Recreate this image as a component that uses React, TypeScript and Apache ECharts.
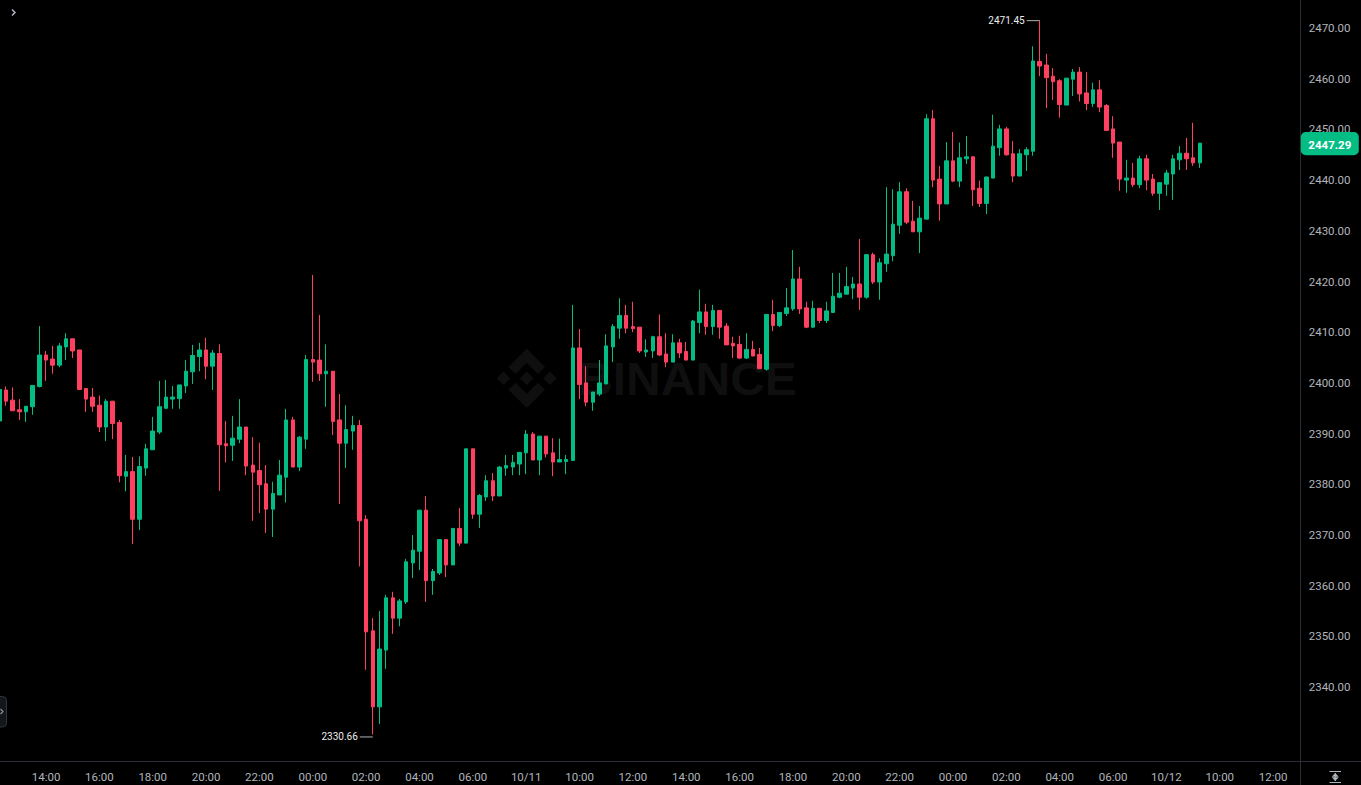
import React, { useEffect, useRef } from "react";
import * as echarts from "echarts";

const opens = [
  2392.5,2398.6,2396.6,2394.7,2394.3,2395.3,2399.3,2405.5,2404.7,2403.5,
  2407.1,2408.7,2406.5,2398.9,2397.2,2395.6,2391.3,2396.4,2392.2,2381.6,
  2382.5,2373.1,2383.2,2386.8,2390.3,2395.0,2396.8,2396.9,2399.4,2402.2,
  2405.2,2406.5,2403.3,2405.8,2388.0,2387.7,2388.9,2391.3,2383.8,2382.7,
  2380.1,2375.1,2377.9,2381.4,2392.7,2383.4,2388.9,2404.6,2404.5,2401.8,
  2402.3,2392.7,2388.1,2390.5,2391.6,2373.1,2351.1,2336.1,2347.3,2357.6,
  2353.6,2356.8,2364.5,2366.8,2374.9,2361.0,2362.5,2369.1,2364.1,2371.3,
  2368.4,2387.0,2374.1,2377.5,2380.7,2377.7,2383.2,2383.4,2384.0,2386.2,
  2389.9,2384.8,2389.5,2386.2,2384.4,2384.5,2384.7,2406.9,2400.0,2396.2,
  2397.8,2399.8,2407.1,2410.8,2413.3,2411.1,2411.0,2406.1,2406.3,2409.1,
  2405.7,2404.1,2407.9,2406.2,2404.5,2411.9,2414.0,2411.1,2414.3,2411.2,
  2407.8,2407.6,2404.9,2406.6,2405.6,2402.7,2413.5,2411.3,2413.7,2414.6,
  2420.5,2414.8,2411.0,2414.7,2412.3,2413.9,2416.9,2417.5,2418.7,2419.5,
  2416.9,2425.3,2419.9,2423.5,2425.1,2431.1,2437.7,2431.9,2429.8,2432.3,
  2452.1,2440.2,2435.3,2443.8,2439.8,2444.2,2444.6,2438.4,2435.4,2440.4,
  2446.4,2450.1,2445.2,2440.8,2445.0,2445.7,2463.4,2462.7,2460.5,2459.6,
  2454.8,2459.9,2461.3,2457.2,2455.1,2457.8,2454.7,2450.1,2447.5,2440.0,
  2440.4,2439.1,2444.2,2440.2,2437.4,2439.2,2441.2,2444.0,2445.3,2444.4,
  2443.4,
];
const closes = [
  2398.7,2396.4,2394.5,2394.3,2395.4,2399.5,2405.5,2404.5,2403.5,2407.3,
  2408.7,2406.3,2398.7,2396.8,2395.4,2391.3,2396.4,2392.0,2381.7,2382.5,
  2373.1,2383.5,2387.0,2390.5,2395.3,2397.2,2397.2,2399.6,2402.3,2405.4,
  2406.5,2403.3,2405.9,2387.8,2387.6,2389.1,2391.3,2383.6,2382.4,2379.9,
  2375.1,2378.2,2381.8,2392.7,2383.4,2389.3,2404.6,2404.1,2401.8,2402.3,
  2392.4,2388.1,2390.8,2391.6,2372.8,2350.9,2336.1,2347.5,2357.6,2353.6,
  2357.0,2364.7,2367.0,2374.9,2361.0,2362.8,2369.1,2364.1,2371.3,2368.4,
  2387.0,2374.1,2377.8,2380.7,2377.7,2383.4,2383.7,2384.3,2386.3,2389.9,
  2384.8,2389.5,2386.0,2384.4,2384.9,2384.9,2406.9,2399.7,2396.2,2398.2,
  2400.0,2407.3,2411.1,2413.3,2410.8,2410.7,2406.3,2406.5,2409.1,2405.5,
  2404.1,2407.9,2405.9,2404.5,2412.2,2414.0,2411.1,2414.3,2411.0,2407.5,
  2407.3,2404.9,2406.6,2405.3,2402.8,2413.5,2411.3,2413.9,2414.8,2420.5,
  2414.6,2411.0,2414.7,2412.3,2414.2,2417.1,2417.7,2419.0,2419.5,2416.9,
  2425.3,2419.9,2423.7,2425.4,2431.3,2437.7,2431.7,2429.8,2432.5,2452.1,
  2440.0,2435.3,2443.8,2439.8,2444.4,2444.6,2438.1,2435.4,2440.6,2446.7,
  2450.1,2445.0,2440.8,2445.2,2446.0,2463.5,2462.5,2460.2,2459.4,2454.9,
  2460.1,2461.3,2457.0,2455.1,2457.8,2454.4,2449.8,2447.3,2440.2,2440.4,
  2439.1,2444.2,2440.0,2437.4,2439.5,2441.4,2444.2,2445.3,2444.2,2443.4,
  2447.29,
];
const lows = [
  2390.8,2395.5,2394.5,2392.7,2392.3,2393.7,2399.1,2400.4,2401.8,2403.1,
  2404.5,2404.9,2398.6,2394.3,2394.3,2390.3,2388.5,2388.9,2380.4,2378.6,
  2368.2,2371.0,2381.7,2386.8,2389.9,2394.9,2394.9,2394.9,2398.0,2399.8,
  2402.3,2400.7,2398.6,2378.7,2384.3,2384.6,2388.1,2381.8,2372.8,2374.3,
  2370.4,2369.6,2377.9,2376.4,2383.4,2382.6,2387.0,2400.2,2400.4,2395.3,
  2389.7,2376.1,2383.2,2386.8,2363.8,2343.4,2330.66,2332.7,2343.6,2350.5,
  2352.0,2356.4,2361.5,2363.1,2356.8,2358.2,2362.1,2361.7,2364.1,2367.8,
  2368.4,2373.2,2371.4,2376.7,2376.7,2377.7,2381.7,2381.8,2381.8,2382.0,
  2384.8,2381.8,2385.3,2381.6,2384.4,2382.0,2384.6,2396.8,2395.4,2394.5,
  2397.4,2399.8,2404.1,2408.7,2409.8,2410.0,2405.9,2405.1,2404.9,2405.3,
  2403.1,2404.1,2404.9,2404.5,2404.5,2409.8,2409.5,2409.5,2408.7,2407.5,
  2404.9,2404.7,2404.7,2405.3,2402.8,2402.4,2410.2,2411.0,2413.2,2414.2,
  2413.6,2410.8,2410.8,2411.8,2411.8,2413.8,2416.7,2417.5,2416.5,2414.4,
  2416.6,2419.5,2416.4,2421.9,2424.0,2429.4,2431.3,2429.8,2425.6,2432.3,
  2438.6,2432.0,2435.3,2439.6,2438.6,2443.2,2434.9,2434.7,2433.3,2440.4,
  2444.8,2444.8,2439.6,2440.8,2441.8,2444.8,2460.5,2454.2,2455.8,2452.3,
  2454.8,2456.6,2455.5,2453.8,2454.4,2453.4,2449.8,2444.4,2437.9,2437.5,
  2438.6,2438.4,2438.0,2436.9,2434.1,2436.9,2436.1,2442.0,2442.0,2442.8,
  2442.4,
];
const highs = [
  2398.7,2399.3,2399.1,2396.8,2395.4,2399.6,2411.2,2406.3,2407.3,2407.9,
  2409.8,2408.7,2406.5,2398.9,2399.0,2397.5,2396.8,2396.4,2392.7,2385.8,
  2385.4,2385.5,2388.0,2393.3,2400.4,2400.6,2399.4,2399.6,2404.5,2407.5,
  2407.9,2408.9,2406.5,2407.6,2392.5,2393.5,2396.8,2391.3,2389.3,2388.2,
  2383.8,2380.5,2384.8,2394.9,2393.3,2389.5,2405.5,2421.3,2413.4,2407.6,
  2402.3,2397.8,2395.6,2393.5,2392.7,2373.9,2353.6,2355.0,2358.2,2358.8,
  2357.4,2365.3,2370.0,2374.9,2377.7,2363.3,2369.1,2369.1,2371.3,2375.3,
  2387.0,2387.0,2378.1,2381.8,2382.2,2383.6,2385.8,2385.8,2386.3,2390.7,
  2390.3,2389.5,2389.5,2389.1,2389.0,2385.8,2415.4,2410.6,2403.3,2398.2,
  2404.5,2409.6,2411.6,2416.7,2415.4,2416.0,2411.0,2408.6,2409.3,2413.5,
  2409.8,2409.6,2408.7,2408.1,2412.4,2418.4,2415.6,2415.4,2414.3,2411.8,
  2409.1,2409.3,2409.8,2408.3,2406.9,2413.6,2416.4,2413.9,2418.7,2426.2,
  2422.9,2416.0,2416.2,2414.8,2416.0,2421.7,2421.7,2422.9,2420.9,2428.4,
  2425.3,2425.7,2424.6,2438.6,2438.2,2439.6,2438.4,2435.9,2434.9,2453.0,
  2453.8,2442.8,2447.5,2449.5,2447.4,2448.7,2444.6,2439.9,2440.7,2452.9,
  2450.9,2450.5,2447.7,2446.1,2446.5,2466.4,2471.45,2464.9,2462.1,2459.9,
  2460.1,2461.9,2462.3,2461.3,2459.2,2459.7,2455.0,2452.6,2447.5,2444.0,
  2443.4,2444.8,2445.0,2441.2,2439.5,2442.0,2445.0,2446.7,2448.3,2451.3,
  2447.29,
];

const xTickLabels = [
  "14:00","16:00","18:00","20:00","22:00","00:00","02:00","04:00","06:00","10/11","10:00","12:00",
  "14:00","16:00","18:00","20:00","22:00","00:00","02:00","04:00","06:00","10/12","10:00","12:00",
];
const yTickValues = [2340,2350,2360,2370,2380,2390,2400,2410,2420,2430,2440,2450,2460,2470];

const FIRST_TICK_INDEX = 7;
const TICK_STEP = 8;
const SLOT_COUNT = 196;
const slotNames = Array.from({ length: SLOT_COUNT }, (_, i) => {
  const t = (i - FIRST_TICK_INDEX) / TICK_STEP;
  return Number.isInteger(t) && xTickLabels[t] ? xTickLabels[t] : `slot-${i}`;
});

const UP = "#03BD85";
const DOWN = "#FF4060";
const AXIS_LINE = "#2A2E34";
const LABEL = "#B0B5BC";
const FONT = "Roboto";
const WATERMARK = "#0F0F0F";
const highIndex = highs.indexOf(Math.max(...highs));
const lowIndex = lows.indexOf(Math.min(...lows));
const lastClose = closes[closes.length - 1];

const chevron = (sign: number) => [
  [0, sign * 29.7],
  [18.3, sign * 11.4],
  [11.2, sign * 4.4],
  [0, sign * 15.5],
  [-11.2, sign * 4.4],
  [-18.3, sign * 11.4],
];
const diamond = (cx: number, cy: number, r: number) => [
  [cx, cy - r],
  [cx + r, cy],
  [cx, cy + r],
  [cx - r, cy],
];
const poly = (points: number[][], fill = WATERMARK) => ({
  type: "polygon",
  shape: { points },
  style: { fill },
  silent: true,
});
const seg = (x1: number, y1: number, x2: number, y2: number, stroke: string, lineWidth = 1) => ({
  type: "line",
  shape: { x1, y1, x2, y2 },
  style: { stroke, lineWidth },
  silent: true,
});

export default function App() {
  const ref = useRef<HTMLDivElement>(null);
  useEffect(() => {
    if (!ref.current) return;
    const chart = echarts.init(ref.current, undefined, { renderer: "svg" });
    chart.setOption({
      animation: false,
      backgroundColor: "#000000",
      grid: {
        left: -4,
        top: 2.65,
        width: 1307.12,
        height: 760.5,
        outerBoundsMode: "none",
        containLabel: false,
      },
      xAxis: {
        type: "category",
        data: slotNames,
        boundaryGap: true,
        axisLine: { show: false },
        axisTick: { show: false },
        splitLine: { show: false },
        axisLabel: {
          interval: (i: number) => i % TICK_STEP === FIRST_TICK_INDEX,
          color: LABEL,
          fontFamily: FONT,
          fontSize: 11.5,
          margin: 8,
          hideOverlap: false,
        },
      },
      yAxis: {
        type: "value",
        position: "right",
        min: 2325,
        max: 2475,
        scale: true,
        axisLine: { show: false },
        axisTick: { show: false },
        splitLine: { show: false },
        axisLabel: {
          customValues: yTickValues,
          formatter: (v: number) => v.toFixed(2),
          color: LABEL,
          fontFamily: FONT,
          fontSize: 11.5,
          margin: 5.6,
        },
      },
      graphic: [
        {
          type: "group",
          x: 526.7,
          y: 378.3,
          z: -10,
          silent: true,
          children: [
            poly(chevron(-1)),
            poly(chevron(1)),
            poly(diamond(0, 0, 6.8)),
            poly(diamond(-23.3, 0, 6.8)),
            poly(diamond(23.3, 0, 6.8)),
          ],
        },
        {
          type: "text",
          x: 578,
          y: 378.5,
          z: -10,
          silent: true,
          scaleX: 1.045,
          style: {
            text: "BINANCE",
            fill: WATERMARK,
            font: "bold 46px 'Liberation Sans'",
            textVerticalAlign: "middle",
            verticalAlign: "middle",
          },
        },
        { ...seg(1300.5, 0, 1300.5, 785, AXIS_LINE), z: 1 },
        { ...seg(0, 761.5, 1361, 761.5, AXIS_LINE), z: 1 },
        {
          type: "polyline",
          z: 5,
          silent: true,
          shape: { points: [[12, 9.5], [15, 12.5], [12, 15.5]] },
          style: { stroke: "#B7BDC6", lineWidth: 1.4, fill: "none" },
        },
        {
          type: "rect",
          z: 5,
          silent: true,
          shape: { x: -10, y: 696.5, width: 16.5, height: 30.5, r: 4 },
          style: { fill: "#14161B", stroke: "#30343C", lineWidth: 1 },
        },
        {
          type: "polyline",
          z: 6,
          silent: true,
          shape: { points: [[0.5, 709], [3, 711.5], [0.5, 714]] },
          style: { stroke: "#8A8F98", lineWidth: 1.2, fill: "none" },
        },
        {
          type: "rect",
          z: 5,
          silent: true,
          shape: { x: 1300.8, y: 132, width: 58, height: 23.3, r: 5 },
          style: { fill: UP },
        },
        {
          type: "text",
          z: 6,
          silent: true,
          x: 1329.8,
          y: 144.5,
          style: {
            text: lastClose.toFixed(2),
            fill: "#FFFFFF",
            font: `bold 11.5px ${FONT}`,
            textAlign: "center",
            align: "center",
            textVerticalAlign: "middle",
            verticalAlign: "middle",
          },
        },
        { ...seg(1329.5, 771.5, 1341, 771.5, "#AEB4BC"), z: 5 },
        { ...seg(1329.5, 782.5, 1341, 782.5, "#AEB4BC"), z: 5 },
        { ...seg(1335.25, 773, 1335.25, 781, "#AEB4BC"), z: 5 },
        { ...poly([[1335.25, 773], [1338.8, 776.7], [1331.7, 776.7]], "#AEB4BC"), z: 5 },
        { ...poly([[1335.25, 781], [1338.8, 777.3], [1331.7, 777.3]], "#AEB4BC"), z: 5 },
      ],
      series: [
        {
          type: "candlestick",
          barWidth: 4,
          data: opens.map((o, i) => [o, closes[i], lows[i], highs[i]]),
          itemStyle: {
            color: UP,
            color0: DOWN,
            borderColor: UP,
            borderColor0: DOWN,
            borderWidth: 1,
          },
          markPoint: {
            silent: true,
            animation: false,
            symbol: "rect",
            symbolSize: [13, 1],
            itemStyle: { color: "#B5B5B5" },
            label: {
              show: true,
              position: "left",
              distance: 2,
              color: "#EDEDED",
              fontFamily: FONT,
              fontSize: 10,
            },
            data: [
              {
                coord: [highIndex, highs[highIndex]],
                symbolOffset: [-6.5, 0],
                label: { formatter: highs[highIndex].toFixed(2) },
              },
              {
                coord: [lowIndex, lows[lowIndex]],
                symbolOffset: [-6.5, 2.5],
                label: { formatter: lows[lowIndex].toFixed(2) },
              },
            ],
          },
        },
      ],
    });
    return () => chart.dispose();
  }, []);
  return <div ref={ref} style={{ position: "fixed", left: 0, top: 0, width: 1361, height: 785 }} />;
}
